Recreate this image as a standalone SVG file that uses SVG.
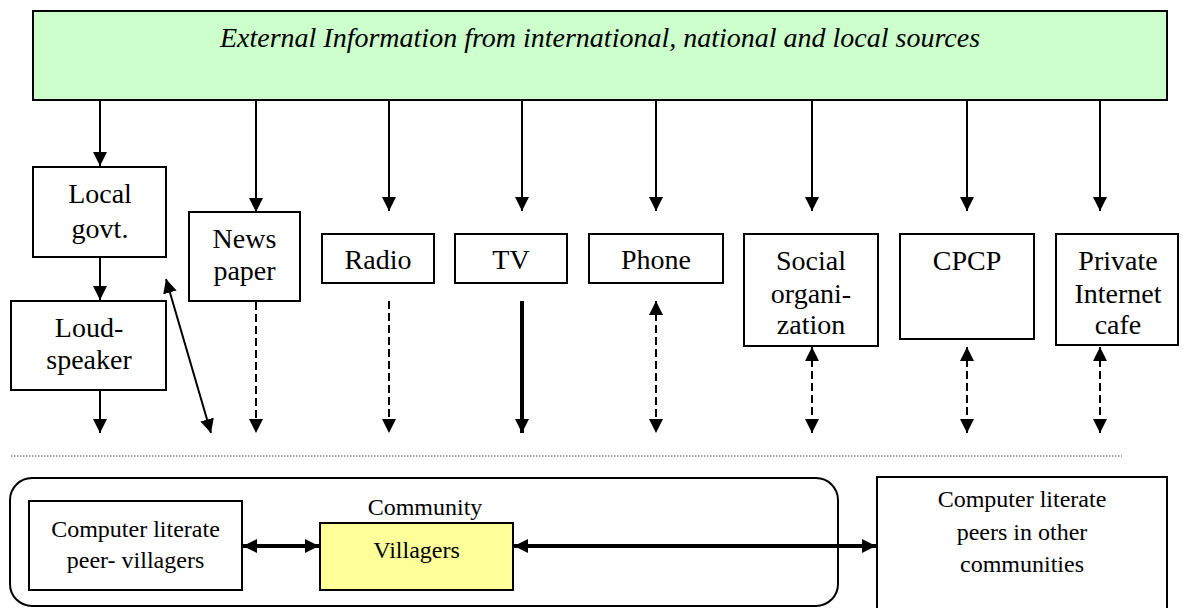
<svg xmlns="http://www.w3.org/2000/svg" width="1183" height="608" viewBox="0 0 1183 608">
<style>
.box{fill:#fff;stroke:#000;stroke-width:2}
.lbl{font-family:"Liberation Serif","Times New Roman",serif;font-size:28px;fill:#000;text-anchor:middle}
.lbl2{font-family:"Liberation Serif","Times New Roman",serif;font-size:24px;fill:#000;text-anchor:middle}
.ln{stroke:#000;stroke-width:2;fill:none}
.dash{stroke-dasharray:8 4}
.thick{stroke-width:4}
</style>
<defs>
<marker id="ah" viewBox="0 0 14 14" refX="14" refY="7" markerWidth="14" markerHeight="14" markerUnits="userSpaceOnUse" orient="auto-start-reverse">
<path d="M0,0 L14,7 L0,14 z" fill="#000"/>
</marker>
</defs>
<g id="external">
<rect x="33" y="11" width="1134" height="89" fill="#CCFFCC" stroke="#000" stroke-width="2"/>
<text x="600" y="47" class="lbl" style="font-style:italic">External Information from international, national and local sources</text>
</g>
<g id="localgovt">
<rect class="box" x="33" y="167" width="133" height="90"/>
<text class="lbl" x="100" y="203">Local</text>
<text class="lbl" x="100" y="238">govt.</text>
</g>
<g id="loudspeaker">
<rect class="box" x="11" y="301" width="155" height="89"/>
<text class="lbl" x="89" y="337">Loud-</text>
<text class="lbl" x="89" y="369">speaker</text>
</g>
<g id="newspaper">
<rect class="box" x="189" y="212" width="111" height="89"/>
<text class="lbl" x="244.5" y="248">News</text>
<text class="lbl" x="244.5" y="280">paper</text>
</g>
<g id="radio">
<rect class="box" x="322" y="234" width="112" height="49"/>
<text class="lbl" x="378" y="269">Radio</text>
</g>
<g id="tv">
<rect class="box" x="455" y="234" width="112" height="49"/>
<text class="lbl" x="511" y="269">TV</text>
</g>
<g id="phone">
<rect class="box" x="589" y="234" width="134" height="49"/>
<text class="lbl" x="656" y="269">Phone</text>
</g>
<g id="social">
<rect class="box" x="744" y="234" width="134" height="112"/>
<text class="lbl" x="811" y="270">Social</text>
<text class="lbl" x="811" y="303">organi-</text>
<text class="lbl" x="811" y="334">zation</text>
</g>
<g id="cpcp">
<rect class="box" x="900" y="234" width="134" height="105"/>
<text class="lbl" x="967" y="270">CPCP</text>
</g>
<g id="private">
<rect class="box" x="1056" y="234" width="122" height="111"/>
<text class="lbl" x="1118" y="270">Private</text>
<text class="lbl" x="1118" y="303">Internet</text>
<text class="lbl" x="1118" y="334">cafe</text>
</g>
<g id="community">
<rect x="10" y="478" width="828" height="128" rx="22" ry="22" fill="none" stroke="#000" stroke-width="2"/>
<text class="lbl2" x="425" y="515">Community</text>
</g>
<g id="peervillagers">
<rect class="box" x="29" y="501" width="213" height="89"/>
<text class="lbl2" x="135.5" y="537">Computer literate</text>
<text class="lbl2" x="135.5" y="568">peer- villagers</text>
</g>
<g id="villagers">
<rect x="320" y="523" width="193" height="67" fill="#FFFF99" stroke="#000" stroke-width="2"/>
<text class="lbl2" x="416.5" y="558">Villagers</text>
</g>
<g id="othercommunities">
<rect class="box" x="877" y="477" width="290" height="140"/>
<text class="lbl2" x="1022" y="507">Computer literate</text>
<text class="lbl2" x="1022" y="540">peers in other</text>
<text class="lbl2" x="1022" y="572">communities</text>
</g>
<g id="connectors">
<line class="ln" x1="100" y1="100" x2="100" y2="166" marker-end="url(#ah)"/>
<line class="ln" x1="100" y1="257" x2="100" y2="300" marker-end="url(#ah)"/>
<line class="ln" x1="100" y1="390" x2="100" y2="433" marker-end="url(#ah)"/>
<line class="ln" x1="166" y1="279" x2="211" y2="433" marker-start="url(#ah)" marker-end="url(#ah)"/>
<line class="ln" x1="256" y1="100" x2="256" y2="212" marker-end="url(#ah)"/>
<line class="ln dash" x1="256" y1="302" x2="256" y2="433" marker-end="url(#ah)"/>
<line class="ln" x1="389" y1="100" x2="389" y2="211" marker-end="url(#ah)"/>
<line class="ln dash" x1="389" y1="301" x2="389" y2="433" marker-end="url(#ah)"/>
<line class="ln" x1="522" y1="100" x2="522" y2="211" marker-end="url(#ah)"/>
<line class="ln thick" x1="522" y1="301" x2="522" y2="433" marker-end="url(#ah)"/>
<line class="ln" x1="656" y1="100" x2="656" y2="211" marker-end="url(#ah)"/>
<line class="ln dash" x1="656" y1="301" x2="656" y2="433" marker-start="url(#ah)" marker-end="url(#ah)"/>
<line class="ln" x1="812" y1="100" x2="812" y2="211" marker-end="url(#ah)"/>
<line class="ln dash" x1="812" y1="347" x2="812" y2="433" marker-start="url(#ah)" marker-end="url(#ah)"/>
<line class="ln" x1="967" y1="100" x2="967" y2="211" marker-end="url(#ah)"/>
<line class="ln dash" x1="967" y1="347" x2="967" y2="433" marker-start="url(#ah)" marker-end="url(#ah)"/>
<line class="ln" x1="1100" y1="100" x2="1100" y2="211" marker-end="url(#ah)"/>
<line class="ln dash" x1="1100" y1="347" x2="1100" y2="433" marker-start="url(#ah)" marker-end="url(#ah)"/>
<line x1="11" y1="456" x2="1122" y2="456" stroke="#444" stroke-width="1" stroke-dasharray="1.5 1.5"/>
<line class="ln thick" x1="243" y1="546" x2="319" y2="546" marker-start="url(#ah)" marker-end="url(#ah)"/>
<line class="ln thick" x1="514" y1="546" x2="876" y2="546" marker-start="url(#ah)" marker-end="url(#ah)"/>
</g>
</svg>
